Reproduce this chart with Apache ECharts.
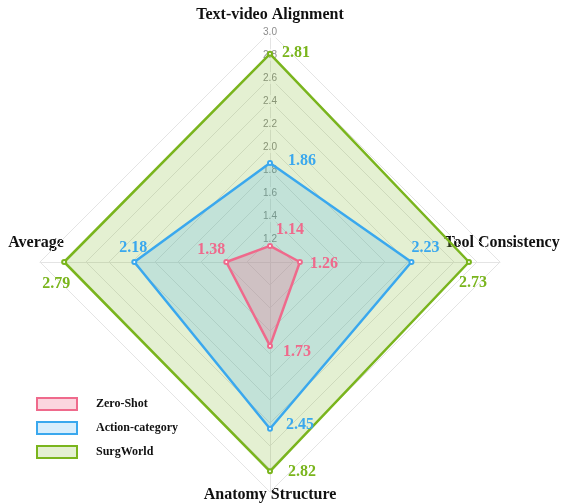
<!DOCTYPE html>
<html>
<head>
<meta charset="utf-8">
<script src="https://cdn.jsdelivr.net/npm/echarts@6/dist/echarts.min.js"></script>
<style>
  html, body { margin: 0; padding: 0; background: #fff; }
  #main { width: 562px; height: 504px; }
</style>
</head>
<body>
<div id="main"></div>
<script>
// indicator order as echarts lays it out (top, then counter-clockwise)
const categories = ["Text-video Alignment", "Average", "Anatomy Structure", "Tool Consistency"];
const seriesNames = ["Zero-Shot", "Action-category", "SurgWorld"];
const zeroShot = [1.14, 1.38, 1.73, 1.26];
const actionCategory = [1.86, 2.18, 2.45, 2.23];
const surgWorld = [2.81, 2.79, 2.82, 2.73];
const axisMin = 1.0;
const axisMax = 3.0;

const lineColors = ["#ef6a8c", "#3aa8ee", "#7ab51d"];
const fillColors = ["rgba(239,106,140,0.28)", "rgba(58,168,238,0.2)", "rgba(122,181,29,0.2)"];

// label shift from each point [dx, dy], same order as categories
const labelShift = [
  [[20, -16], [-15, -12], [27, 6], [24, 2]],
  [[32, -2], [-1, -14], [30, -4], [14, -14]],
  [[26, -1], [-8, 22], [32, 1], [4, 21]],
];

const serif = "'Liberation Serif', 'Times New Roman', serif";

function shiftRich(i) {
  let rich = {};
  labelShift[i].forEach((s, k) => {
    let dx = s[0], dy = s[1];
    rich["p" + k] = {
      color: lineColors[i],
      fontFamily: serif,
      fontWeight: "bold",
      fontSize: 16,
      padding: [dy > 0 ? 2 * dy : 0, dx < 0 ? -2 * dx : 0, dy < 0 ? -2 * dy : 0, dx > 0 ? 2 * dx : 0],
    };
  });
  return rich;
}

function makeItem(i, vals) {
  return {
    name: seriesNames[i],
    value: vals,
    symbol: "emptyCircle",
    symbolSize: 4,
    lineStyle: { color: lineColors[i], width: 2.5 },
    itemStyle: { color: lineColors[i] },
    areaStyle: { color: fillColors[i], opacity: 1 },
    label: {
      show: true,
      position: ["50%", "50%"],
      align: "center",
      verticalAlign: "middle",
      color: lineColors[i],
      formatter: (p) => "{p" + vals.indexOf(p.value) + "|" + p.value.toFixed(2) + "}",
      rich: shiftRich(i),
    },
  };
}

const myChart = echarts.init(document.getElementById("main"));

let option = {
  backgroundColor: "#fff",
  animation: false,
  legend: {
    orient: "vertical",
    left: 36,
    top: 397,
    padding: 0,
    itemWidth: 40,
    itemHeight: 12,
    itemGap: 10,
    selectedMode: false,
    textStyle: {
      fontFamily: serif,
      fontWeight: "bold",
      fontSize: 12,
      color: "#111",
      padding: [0, 0, 0, 14],
    },
    data: seriesNames.map((n, i) => ({
      name: n,
      icon: "rect",
      itemStyle: { color: fillColors[i], borderColor: lineColors[i], borderWidth: 2 },
    })),
  },
  radar: {
    center: [270, 262],
    radius: 230,
    shape: "polygon",
    splitNumber: 10,
    indicator: categories.map((c, i) => {
      let ind = { name: c, min: axisMin, max: axisMax };
      if (i === 0) {
        ind.axisLabel = {
          show: true,
          showMinLabel: false,
          align: "center",
          verticalAlign: "middle",
          margin: 0,
          color: "#8c8c8c",
          fontSize: 10,
          fontFamily: "'Liberation Sans', Arial, sans-serif",
          backgroundColor: "rgba(255,255,255,0.7)",
          padding: [1, 1],
          formatter: (v) => Number(v).toFixed(1),
        };
      }
      return ind;
    }),
    axisName: { show: false },
    axisLabel: { show: false },
    axisLine: { lineStyle: { color: "#e4e4e4", width: 1 } },
    splitLine: { lineStyle: { color: "#e4e4e4", width: 1 } },
    splitArea: { show: false },
  },
  graphic: [
    { type: "text", x: 270, y: 15, style: { text: "Text-video Alignment", align: "center", verticalAlign: "middle", font: "bold 16px " + serif, fill: "#111" } },
    { type: "text", x: 502, y: 243, style: { text: "Tool Consistency", align: "center", verticalAlign: "middle", font: "bold 16px " + serif, fill: "#111" } },
    { type: "text", x: 270, y: 495, style: { text: "Anatomy Structure", align: "center", verticalAlign: "middle", font: "bold 16px " + serif, fill: "#111" } },
    { type: "text", x: 36, y: 243, style: { text: "Average", align: "center", verticalAlign: "middle", font: "bold 16px " + serif, fill: "#111" } },
  ],
  series: [
    {
      type: "radar",
      data: [makeItem(2, surgWorld), makeItem(1, actionCategory), makeItem(0, zeroShot)],
    },
  ],
};

myChart.setOption(option);
</script>
</body>
</html>
